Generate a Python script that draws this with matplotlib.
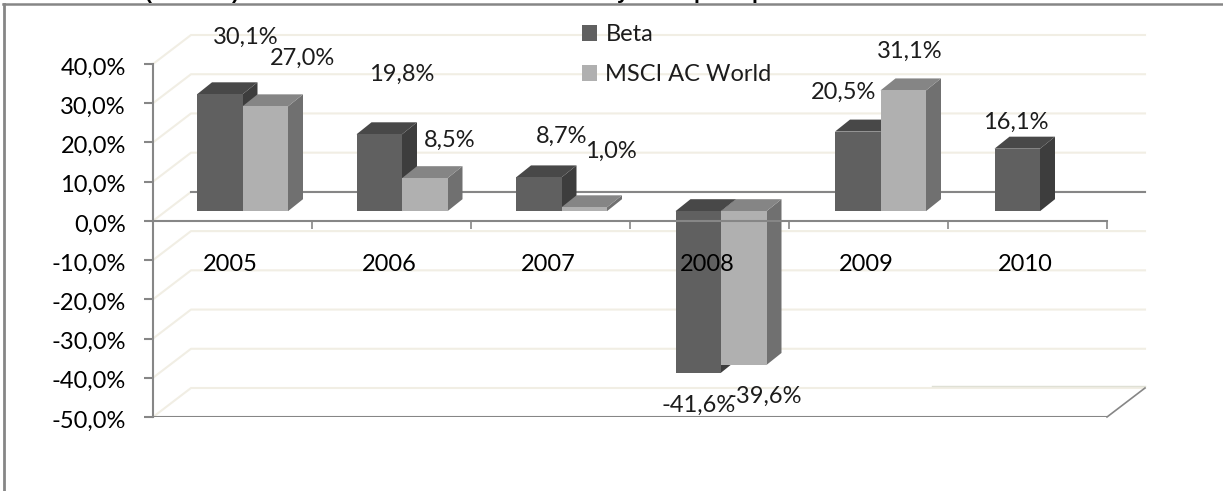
import matplotlib
matplotlib.use("Agg")
from matplotlib import pyplot as plt
from matplotlib.lines import Line2D
from matplotlib.transforms import ScaledTranslation

years = ["2005", "2006", "2007", "2008", "2009", "2010"]
beta = [30.1, 19.8, 8.7, -41.6, 20.5, 16.1]
msci = [27.0, 8.5, 1.0, -39.6, 31.1]
y_ticks = [40, 30, 20, 10, 0, -10, -20, -30, -40, -50]

# label offsets from the bar end, in pixels
beta_off = [(26, 57), (22, 60), (23, 41), (0, -33), (-14, 39), (-1, 26)]
msci_off = [(37, 48), (25, 38), (27, 56), (21, -31), (6, 39)]

# bits of the cut off title at the top of the picture
title_bits = [("(", 149), (")", 235), ("y", 623), ("p", 700), ("p", 758)]

W, H = 1223, 491
GREY = "#868686"
GRID = "#f1eee4"

plt.rcParams["font.family"] = ["Lato", "DejaVu Sans"]
plt.rcParams["font.size"] = 17
plt.rcParams["text.color"] = "#1c1c1c"

fig = plt.figure(figsize=(W / 100, H / 100), dpi=100)
ax = fig.add_axes([153 / W, (H - 417) / H, 954 / W, 353 / H])
ax.set_xlim(0, 6)
ax.set_ylim(-50, 40)

px_x = 6 / 954
px_y = 90 / 353
spacing = 159.5 * px_x

# walls behind the bars
wall_dx = 38 * px_x
wall_dy = 29 * px_y
for v in y_ticks:
    ax.plot([0, wall_dx, 6 + wall_dx], [v, v + wall_dy, v + wall_dy], color=GRID, lw=1.5, clip_on=False, zorder=1)
ax.plot([wall_dx, 6 + wall_dx], [wall_dy, wall_dy], color=GREY, lw=1.5, clip_on=False, zorder=1.2)
ax.plot([4.9, 6 + wall_dx], [-50 + wall_dy + 2 * px_y] * 2, color="#dfe0d5", lw=1, clip_on=False, zorder=1.2)
ax.plot([6, 6 + wall_dx], [-50, -50 + wall_dy], color=GREY, lw=1.2, clip_on=False, zorder=1.2)


def draw_bars(values, start, front, top, side, label):
    base = 9.7 * px_y
    dx = 15 * px_x
    dy = 12 * px_y
    width = 45.5 * px_x
    for i, v in enumerate(values):
        h = v * 0.99
        x0 = i * spacing + start
        x1 = x0 + width
        hi = base + max(h, 0)
        ax.fill([x1, x1 + dx, x1 + dx, x1], [base + min(h, 0), base + min(h, 0) + dy, hi + dy, hi], color=side, lw=0, zorder=2)
        ax.fill([x0, x1, x1 + dx, x0 + dx], [hi, hi, hi + dy, hi + dy], color=top, lw=0, zorder=2)
        ax.bar(x0, h, width=width, bottom=base, align="edge", color=front, lw=0, zorder=2.1,
               label=label if i == 0 else None)


def draw_labels(values, start, offsets):
    base = 9.7 * px_y
    width = 45.5 * px_x
    for i, v in enumerate(values):
        text = f"{v:.1f}".replace(".", ",") + "%"
        ax.annotate(text, xy=(i * spacing + start + width / 2, base + v * 0.99), xytext=offsets[i],
                    textcoords="offset pixels", ha="center", va="center", zorder=5, annotation_clip=False)


beta_start = 44 * px_x
msci_start = beta_start + 45.5 * px_x
draw_bars(beta, beta_start, "#606060", "#484848", "#3d3d3d", "Beta")
draw_bars(msci, msci_start, "#b0b0b0", "#858585", "#707070", "MSCI AC World")
draw_labels(beta, beta_start, beta_off)
draw_labels(msci, msci_start, msci_off)

# axes
for s in ["top", "right"]:
    ax.spines[s].set_visible(False)
ax.spines["bottom"].set_position(("data", 0))
ax.spines["bottom"].set_color(GREY)
ax.spines["left"].set_color(GREY)
ax.spines["bottom"].set_linewidth(1.5)
ax.spines["left"].set_linewidth(1.5)
ax.spines["bottom"].set_zorder(3)
ax.axhline(-50, color=GREY, lw=1.5, zorder=3)
ax.set_axisbelow(False)
ax.patch.set_visible(False)

ax.set_yticks(y_ticks)
ax.set_yticklabels([f"{v:.1f}".replace(".", ",") + "%" for v in y_ticks])
ax.tick_params(axis="y", length=6.5, width=1.5, color=GREY, pad=13)
shift = ScaledTranslation(0, -2 / 100, fig.dpi_scale_trans)
for lab in ax.get_yticklabels():
    lab.set_transform(lab.get_transform() + shift)
ax.set_xticks(range(7))
ax.set_xticklabels([])
ax.tick_params(axis="x", which="major", length=6, width=1.2, color=GREY, direction="out")
ax.set_xticks([i + 0.485 for i in range(len(years))], minor=True)
ax.set_xticklabels(years, minor=True)
ax.tick_params(axis="x", which="minor", length=0, pad=24)

leg = ax.legend(loc="upper left", bbox_to_anchor=(0.4495, 1.113), frameon=False, ncol=1,
                handlelength=0.65, handleheight=0.65, handletextpad=0.35,
                labelspacing=0.8, borderpad=0, borderaxespad=0)
leg.set_zorder(5)

# frame of the picture, top and left only
fig.add_artist(Line2D([4 / W, 4 / W], [0, 1 - 4 / H], color=GREY, lw=2))
fig.add_artist(Line2D([3 / W, 1], [1 - 3.5 / H, 1 - 3.5 / H], color=GREY, lw=1.8))

for s, x in title_bits:
    fig.text(x / W, 1 + 1 / H, s, family="Liberation Sans", fontweight="bold", fontsize=15,
             color="black", ha="center", va="baseline")

fig.savefig("out.png", dpi=100)
